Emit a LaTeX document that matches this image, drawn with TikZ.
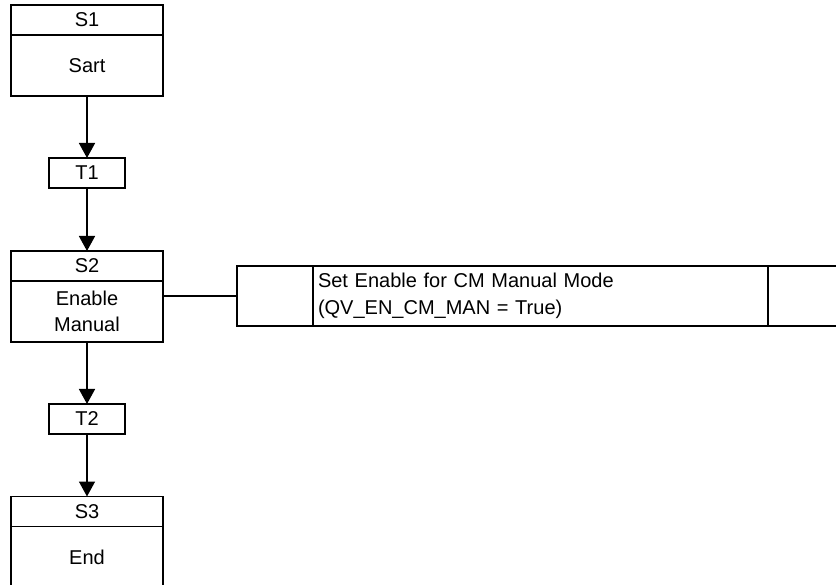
\documentclass[tikz,border=0pt]{standalone}
\usepackage{fontspec}
\setmainfont{Liberation Sans}
\usetikzlibrary{arrows.meta,positioning}
\begin{document}
\begin{tikzpicture}[x=1pt,y=-1pt,
  every node/.style={font=\fontsize{20}{26.5}\selectfont, line width=1.6pt, inner sep=0pt, outer sep=0pt},
  hdr/.style={draw, minimum width=152pt, minimum height=30pt},
  body/.style={draw, minimum width=152pt, minimum height=61pt, align=center},
  trans/.style={draw, minimum width=76pt, minimum height=30pt},
  cell/.style={draw, minimum height=60pt},
  flow/.style={line width=1.6pt, -{Triangle[length=15pt,width=16pt]}},
  link/.style={line width=1.6pt}
]
\useasboundingbox (0,0) rectangle (836,585);
% Step S1
\node[hdr] (s1h) at (87,20) {S1};
\node[body, anchor=north] (s1b) at (s1h.south) {Sart};
% Transition T1
\node[trans] (t1) at (87,173) {T1};
% Step S2
\node[hdr] (s2h) at (87,266) {S2};
\node[body, anchor=north] (s2b) at (s2h.south) {Enable\\Manual};
% Transition T2
\node[trans] (t2) at (87,419) {T2};
% Step S3
\node[hdr] (s3h) at (87,511.5) {S3};
\node[body, anchor=north] (s3b) at (s3h.south) {End};
% Action block
\node[cell, minimum width=76pt, anchor=west] (actl) at (237,296) {};
\node[cell, minimum width=455pt, anchor=west, text width=445pt, inner xsep=5pt, align=left] (actm) at (actl.east) {Set Enable for CM Manual Mode\\(QV\_EN\_CM\_MAN = True)};
\node[cell, minimum width=90pt, anchor=west] (actr) at (actm.east) {};
% Connectors
\draw[flow] (s1b) -- (t1);
\draw[flow] (t1) -- (s2h);
\draw[flow] (s2b) -- (t2);
\draw[flow] (t2) -- (s3h);
\draw[link] (actl.west -| s2b.east) -- (actl.west);
\end{tikzpicture}
\end{document}
